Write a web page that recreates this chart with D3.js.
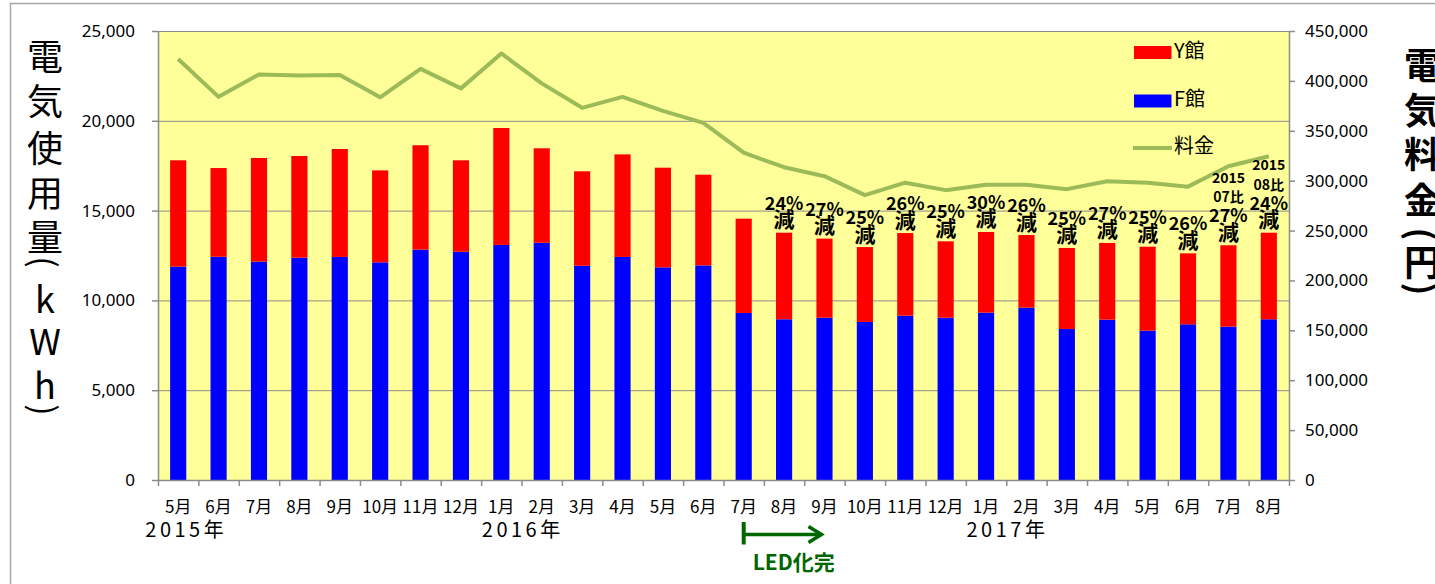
<!DOCTYPE html>
<html>
<head>
<meta charset="utf-8">
<script src="https://cdn.jsdelivr.net/npm/d3@7"></script>
<style>
body{margin:0;background:#fff;}
svg{display:block;font-family:"Noto Sans CJK JP","Noto Sans",sans-serif;}
</style>
</head>
<body>
<div id="chart"></div>
<script>
// データ (2015年5月 〜 2017年8月)
const months = ["5月","6月","7月","8月","9月","10月","11月","12月",
  "1月","2月","3月","4月","5月","6月","7月","8月","9月","10月","11月","12月",
  "1月","2月","3月","4月","5月","6月","7月","8月"];
const years = ["2015年","2016年","2017年"];
const yearPos = [0.7, 9.03, 21.03]; // 帯の単位での位置

// F館 (kWh)
const fKan = [11880,12430,12160,12380,12420,12120,12830,12710,
  13090,13210,11930,12420,11840,11950,9300,8950,9040,8800,9150,9040,
  9320,9600,8410,8930,8320,8670,8540,8950];
// Y館 (kWh)
const yKan = [5920,4940,5770,5660,6010,5120,5810,5090,
  6510,5260,5260,5710,5550,5050,5250,4820,4400,4170,4600,4250,
  4490,4040,4510,4270,4670,3950,4530,4820];
// 電気料金 (円)
const ryokin = [422000,384000,406500,405500,406000,383500,412000,392500,
  427500,397500,373000,384000,370000,358000,328000,313500,304500,285500,298000,290500,
  296000,296000,291500,299500,298000,294000,314500,324500];
// 前年同月比の削減率
const genritsu = [null,null,null,null,null,null,null,null,
  null,null,null,null,null,null,null,"24%","27%","25%","26%","25%",
  "30%","26%","25%","27%","25%","26%","27%","24%"];
const hikaku = [null,null,null,null,null,null,null,null,
  null,null,null,null,null,null,null,null,null,null,null,null,
  null,null,null,null,null,null,"07比","08比"];

const leftTicks = [0,5000,10000,15000,20000,25000];
const rightTicks = [0,50000,100000,150000,200000,250000,300000,350000,400000,450000];

// 縦書きタイトル ("(" と ")" は90度回して縦書き用の括弧にする)
const leftTitle = ["電","気","使","用","量","(","k","W","h",")"];
const rightTitle = ["電","気","料","金","(","円",")"];

//svg
const width = 1435, height = 584;
const svg = d3.select("#chart").append("svg")
  .attr("width", width).attr("height", height);

const px0 = 158, px1 = 1289, py0 = 31, py1 = 480;
const gridColor = "#8c8c8c";

// 外枠
svg.append("rect")
  .attr("x", 10.5).attr("y", 3.5)
  .attr("width", 1500).attr("height", 700)
  .attr("fill", "none").attr("stroke", "#a6a6a6").attr("stroke-width", 1.5);

// scales
const ids = months.map((m, i) => i);
const x = d3.scaleBand().domain(ids).range([px0, px1]).paddingInner(0.6).paddingOuter(0.3);
const xb = d3.scaleLinear().domain([0, months.length]).range([px0, px1]);
const yL = d3.scaleLinear().domain([0, 25000]).range([py1, py0]);
const yR = d3.scaleLinear().domain([0, 450000]).range([py1, py0]);
const cx = i => x(i) + x.bandwidth() / 2;

// plot area
svg.append("rect")
  .attr("x", px0).attr("y", py0)
  .attr("width", px1 - px0).attr("height", py1 - py0)
  .attr("fill", "#ffff99");

// grid
svg.append("g").selectAll("line")
  .data(leftTicks.filter(d => d > 0))
  .join("line")
  .attr("x1", px0).attr("x2", px1)
  .attr("y1", d => yL(d) + 0.5).attr("y2", d => yL(d) + 0.5)
  .attr("stroke", gridColor).attr("stroke-width", 1);

// bars
const rows = ids.map(i => ({f: fKan[i], y: yKan[i]}));
const series = d3.stack().keys(["f", "y"])(rows);
const colors = {f: "#0000ff", y: "#ff0000"};

svg.append("g").selectAll("g")
  .data(series)
  .join("g")
  .attr("fill", d => colors[d.key])
  .selectAll("rect")
  .data(d => d)
  .join("rect")
  .attr("x", (d, i) => x(i))
  .attr("width", x.bandwidth())
  .attr("y", d => yL(d[1]))
  .attr("height", d => yL(d[0]) - yL(d[1]));

// 料金 line
svg.append("path")
  .datum(ryokin)
  .attr("fill", "none")
  .attr("stroke", "#9bbb59")
  .attr("stroke-width", 4)
  .attr("stroke-linejoin", "round")
  .attr("d", d3.line().x((d, i) => cx(i)).y(d => yR(d)));

// axes
function styleAxis(g, size) {
  g.select(".domain").attr("stroke", gridColor).attr("stroke-width", 1.5);
  g.selectAll(".tick line").attr("stroke", gridColor).attr("stroke-width", 1.5);
  g.selectAll("text").attr("fill", "#000")
    .style("font-family", "'Noto Sans',sans-serif").style("font-size", size + "px");
}

svg.append("g")
  .attr("transform", `translate(${px0},0)`)
  .call(d3.axisLeft(yL).tickValues(leftTicks).tickFormat(d3.format(",")).tickSize(6).tickSizeOuter(0).tickPadding(17))
  .call(g => styleAxis(g, 17));

svg.append("g")
  .attr("transform", `translate(${px1},0)`)
  .call(d3.axisRight(yR).tickValues(rightTicks).tickFormat(d3.format(",")).tickSize(6).tickSizeOuter(0).tickPadding(10))
  .call(g => styleAxis(g, 17));

svg.append("g")
  .attr("transform", `translate(0,${py1})`)
  .call(d3.axisBottom(xb).tickValues(d3.range(months.length + 1)).tickFormat("").tickSize(6).tickSizeOuter(0))
  .call(g => styleAxis(g, 17));

const monthAxis = svg.append("g")
  .attr("transform", `translate(0,${py1})`)
  .call(d3.axisBottom(x).tickFormat(i => months[i]).tickSize(0).tickPadding(21));
monthAxis.select(".domain").remove();
monthAxis.selectAll("text").attr("fill", "#000")
  .style("font-family", "'Noto Sans CJK JP',sans-serif").style("font-size", "17px");

// 年
svg.append("g").selectAll("text")
  .data(years)
  .join("text")
  .attr("x", (d, i) => xb(yearPos[i]))
  .attr("y", 536.5)
  .attr("text-anchor", "middle")
  .style("font-size", "20px")
  .style("letter-spacing", "3.5px")
  .text(d => d);

// 削減ラベル
const lab = svg.append("g").attr("font-weight", "bold").attr("fill", "#000").attr("text-anchor", "middle");
ids.forEach(i => {
  if (!genritsu[i]) return;
  const top = yL(fKan[i] + yKan[i]);
  lab.append("text").attr("x", cx(i)).attr("y", top - 23).style("font-size", "18px").text(genritsu[i]);
  lab.append("text").attr("x", cx(i)).attr("y", top - 5.5).style("font-size", "21px").text("減");
  if (hikaku[i]) {
    lab.append("text").attr("x", cx(i)).attr("y", top - 43).style("font-size", "14px").text(hikaku[i]);
    lab.append("text").attr("x", cx(i)).attr("y", top - 62.5).style("font-size", "14px").text("2015");
  }
});

// 凡例
const legend = svg.append("g");
const legItems = [
  {name: "Y館", color: "#ff0000", type: "rect", y: 52.5},
  {name: "F館", color: "#0000ff", type: "rect", y: 101},
  {name: "料金", color: "#9bbb59", type: "line", y: 148}
];
legItems.forEach(d => {
  if (d.type === "rect") {
    legend.append("rect").attr("x", 1134).attr("y", d.y - 6.5)
      .attr("width", 37.5).attr("height", 13).attr("fill", d.color);
  } else {
    legend.append("line").attr("x1", 1133).attr("x2", 1172)
      .attr("y1", d.y).attr("y2", d.y)
      .attr("stroke", d.color).attr("stroke-width", 4);
  }
  legend.append("text").attr("x", 1174).attr("y", d.y + 5)
    .style("font-size", "20px").text(d.name);
});

// LED化完 arrow
const ledColor = "#006600";
const ax0 = cx(14), ax1 = cx(16) - 3;
const ay = 534.5;
const arrow = svg.append("g").attr("stroke", ledColor).attr("fill", "none");
arrow.append("line").attr("x1", ax0).attr("x2", ax0).attr("y1", 522).attr("y2", 544.5).attr("stroke-width", 4);
arrow.append("line").attr("x1", ax0).attr("x2", ax1).attr("y1", ay).attr("y2", ay).attr("stroke-width", 3.5);
arrow.append("path").attr("d", `M${ax1 - 13},${ay - 8}L${ax1},${ay}L${ax1 - 13},${ay + 8}`).attr("stroke-width", 3.5);
svg.append("text")
  .attr("x", ax0 + 9).attr("y", 570)
  .attr("fill", ledColor).attr("font-weight", "bold")
  .style("font-size", "21px")
  .text("LED化完");

// 軸タイトル
function drawTitle(chars, cxPos, ys, bold) {
  svg.append("g").selectAll("text")
    .data(chars)
    .join("text")
    .attr("x", cxPos).attr("y", (d, i) => ys[i])
    .attr("text-anchor", "middle").attr("dominant-baseline", "central")
    .attr("font-weight", bold ? "bold" : "normal")
    .attr("transform", (d, i) => (d === "(" || d === ")") ? `rotate(90,${cxPos},${ys[i]})` : null)
    .style("font-size", d => (d === "(" || d === ")") ? "34px" : "36px")
    .text(d => d);
}
drawTitle(leftTitle, 45, [54, 99, 146, 191, 235, 262, 297, 339, 383, 410], false);
drawTitle(rightTitle, 1422, [62.5, 107.5, 152, 197.5, 234, 260, 289], true);
</script>
</body>
</html>
